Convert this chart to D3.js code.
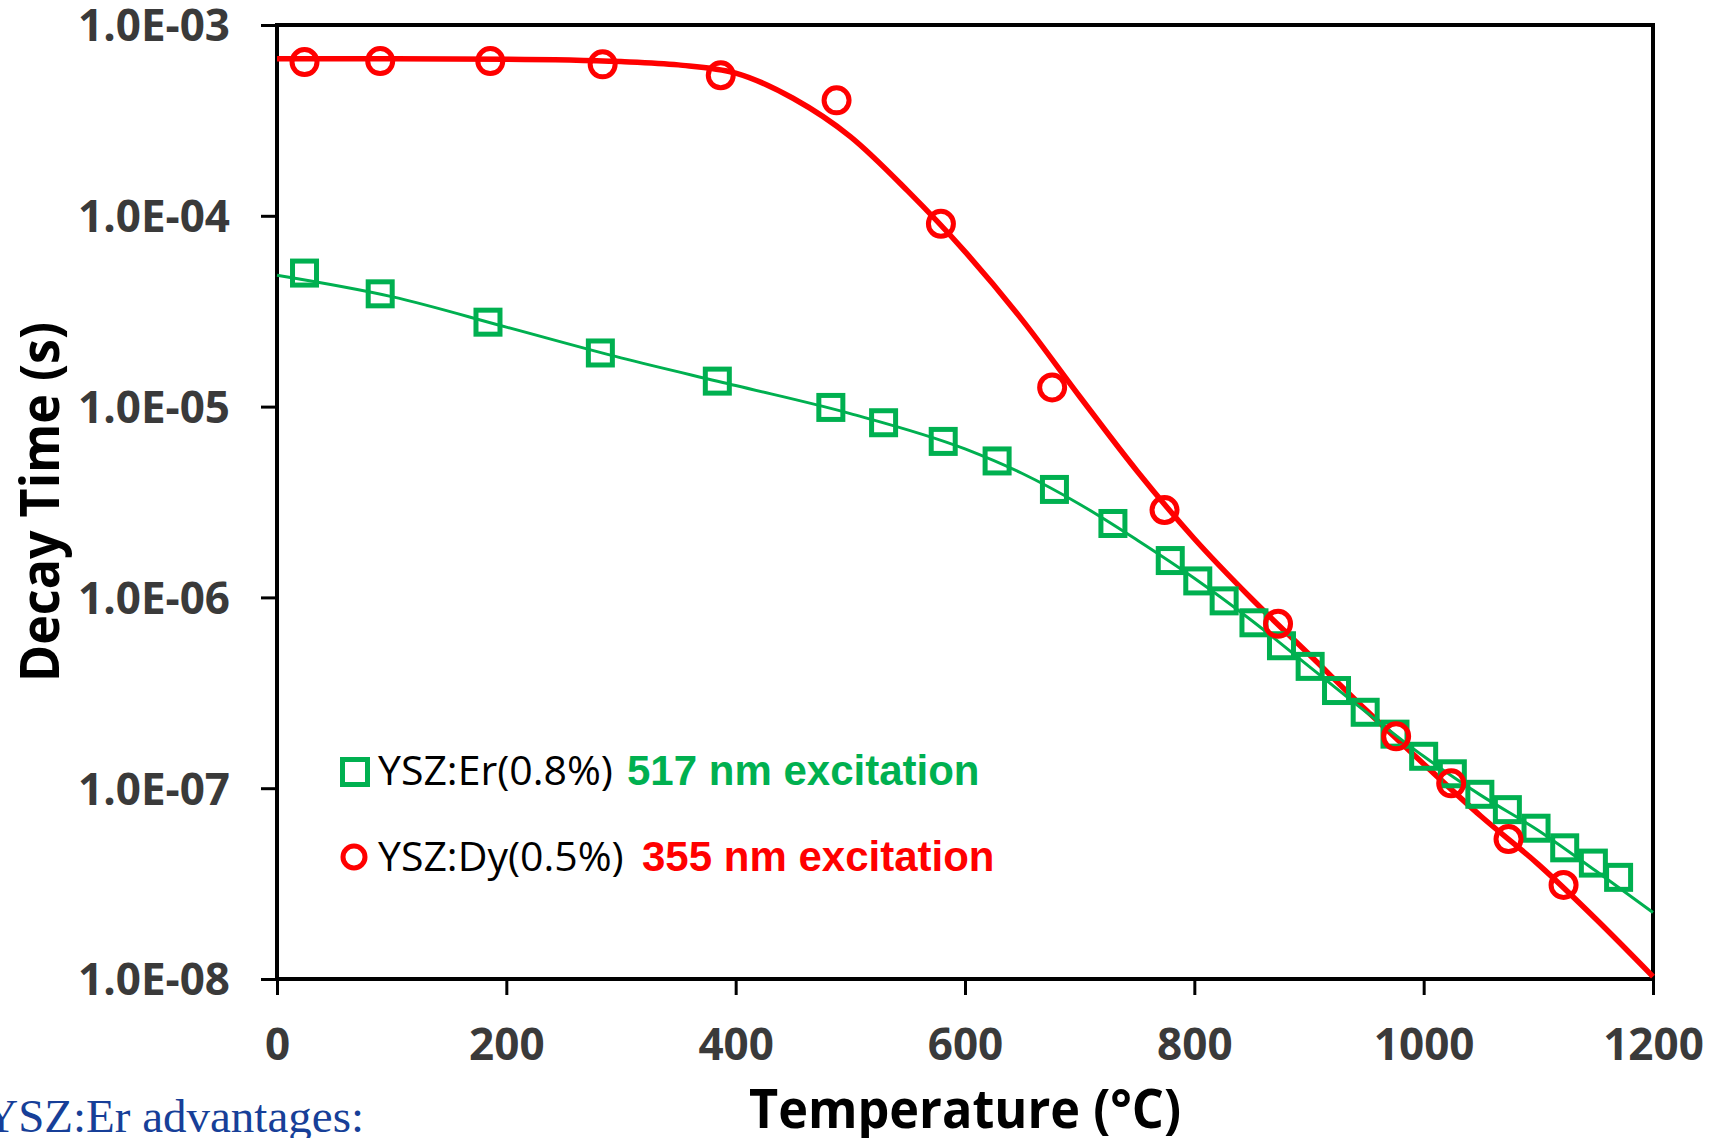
<!DOCTYPE html>
<html>
<head>
<meta charset="utf-8">
<script src="https://cdn.jsdelivr.net/npm/d3@7"></script>
<style>
    body { margin: 0; background: #fff; }
    svg { display: block; }
</style>
</head>
<body>
<div id="chart"></div>
<script>
// YSZ:Er (0.8%) measured decay times
var erTemp = [24, 90, 184, 282, 384, 483, 529, 581, 628, 678, 729, 779, 803, 826, 852, 876, 901, 924, 949, 975, 1000, 1025, 1049, 1073, 1098, 1123, 1148, 1170];
var erTau = [5.01e-5, 3.90e-5, 2.77e-5, 1.91e-5, 1.36e-5, 9.9e-6, 8.23e-6, 6.57e-6, 5.19e-6, 3.68e-6, 2.44e-6, 1.56e-6, 1.22e-6, 9.59e-7, 7.36e-7, 5.58e-7, 4.35e-7, 3.25e-7, 2.50e-7, 1.92e-7, 1.47e-7, 1.19e-7, 9.29e-8, 7.72e-8, 6.17e-8, 4.87e-8, 4.05e-8, 3.41e-8];

// YSZ:Dy (0.5%) measured decay times
var dyTemp = [24, 90, 186, 284, 387, 488, 579, 676, 774, 873, 976, 1024, 1074, 1122];
var dyTau = [6.39e-4, 6.47e-4, 6.47e-4, 6.22e-4, 5.45e-4, 4.03e-4, 9.08e-5, 1.26e-5, 2.87e-6, 7.27e-7, 1.87e-7, 1.06e-7, 5.41e-8, 3.11e-8];

// fitted curves
var erFitTemp = [0, 100, 200, 300, 400, 500, 600, 650, 700, 750, 800, 850, 900, 950, 1000, 1050, 1100, 1150, 1200];
var erFitTau = [4.88e-5, 3.77e-5, 2.61e-5, 1.80e-5, 1.29e-5, 9.19e-6, 6.00e-6, 4.46e-6, 3.08e-6, 2.00e-6, 1.26e-6, 7.57e-7, 4.35e-7, 2.50e-7, 1.47e-7, 9.17e-8, 6.01e-8, 3.69e-8, 2.23e-8];

var dyFitTemp = [0, 100, 200, 300, 350, 400, 450, 500, 550, 600, 650, 700, 750, 800, 850, 900, 950, 1000, 1050, 1100, 1150, 1200];
var dyFitTau = [6.65e-4, 6.65e-4, 6.62e-4, 6.43e-4, 6.18e-4, 5.60e-4, 4.13e-4, 2.60e-4, 1.35e-4, 6.49e-5, 2.84e-5, 1.13e-5, 4.60e-6, 2.03e-6, 9.84e-7, 5.03e-7, 2.56e-7, 1.34e-7, 7.13e-8, 3.99e-8, 2.07e-8, 1.03e-8];

var xTicks = [0, 200, 400, 600, 800, 1000, 1200];
var yTicks = [1e-8, 1e-7, 1e-6, 1e-5, 1e-4, 1e-3];

var legendNames = ['YSZ:Er(0.8%)', 'YSZ:Dy(0.5%)'];
var legendNotes = ['517 nm excitation', '355 nm excitation'];

var W = 1714, H = 1138;
var margin = { top: 25, right: 61, bottom: 159, left: 277 },
    width = W - margin.left - margin.right,
    height = H - margin.top - margin.bottom;

var green = '#00b050', red = '#ff0000';

var x = d3.scaleLinear()
    .domain([0, 1200])
    .range([0, width]);

var y = d3.scaleLog()
    .domain([1e-8, 1e-3])
    .range([height, 0]);

var root = d3.select('#chart')
    .append('svg')
    .attr('width', W)
    .attr('height', H);

var svg = root.append('g')
    .attr('transform', 'translate(' + margin.left + ',' + margin.top + ')');

var fmt = function (d) {
    var e = Math.round(Math.log10(d));
    return '1.0E' + (e < 0 ? '-' : '+') + String(Math.abs(e)).padStart(2, '0');
};

// y axis
var yAxis = svg.append('g')
    .call(d3.axisLeft(y).tickValues(yTicks).tickFormat(fmt).tickSize(16).tickSizeOuter(0));
yAxis.select('.domain').remove();
yAxis.selectAll('line').attr('stroke', '#000').attr('stroke-width', 3);
yAxis.selectAll('text')
    .attr('x', -47)
    .attr('dy', '0.36em')
    .attr('fill', '#3a3a3a')
    .style('font-family', '"Open Sans", sans-serif')
    .style('font-weight', 'bold')
    .style('font-size', '44px');

// x axis
var xAxis = svg.append('g')
    .attr('transform', 'translate(0,' + height + ')')
    .call(d3.axisBottom(x).tickValues(xTicks).tickFormat(d3.format('d')).tickSize(16).tickSizeOuter(0));
xAxis.select('.domain').remove();
xAxis.selectAll('line').attr('stroke', '#000').attr('stroke-width', 3);
xAxis.selectAll('text')
    .attr('y', 81)
    .attr('dy', 0)
    .attr('fill', '#3a3a3a')
    .style('font-family', '"Open Sans", sans-serif')
    .style('font-weight', 'bold')
    .style('font-size', '44px');

// plot frame
svg.append('rect')
    .attr('x', 0)
    .attr('y', 0)
    .attr('width', width)
    .attr('height', height)
    .attr('fill', 'none')
    .attr('stroke', '#000')
    .attr('stroke-width', 4);

var line = d3.line()
    .x(function (d) { return x(d[0]); })
    .y(function (d) { return y(d[1]); })
    .curve(d3.curveMonotoneX);

// fit lines
svg.append('path')
    .datum(d3.zip(dyFitTemp, dyFitTau))
    .attr('d', line)
    .attr('fill', 'none')
    .attr('stroke', red)
    .attr('stroke-width', 5.5);

svg.append('path')
    .datum(d3.zip(erFitTemp, erFitTau))
    .attr('d', line)
    .attr('fill', 'none')
    .attr('stroke', green)
    .attr('stroke-width', 3);

// Er squares
var sq = 24;
svg.selectAll('.er')
    .data(d3.zip(erTemp, erTau))
    .enter().append('rect')
    .attr('class', 'er')
    .attr('x', function (d) { return x(d[0]) - sq / 2; })
    .attr('y', function (d) { return y(d[1]) - sq / 2; })
    .attr('width', sq)
    .attr('height', sq)
    .attr('fill', 'none')
    .attr('stroke', green)
    .attr('stroke-width', 5);

// Dy circles
svg.selectAll('.dy')
    .data(d3.zip(dyTemp, dyTau))
    .enter().append('circle')
    .attr('class', 'dy')
    .attr('cx', function (d) { return x(d[0]); })
    .attr('cy', function (d) { return y(d[1]); })
    .attr('r', 12.5)
    .attr('fill', 'none')
    .attr('stroke', red)
    .attr('stroke-width', 5);

// axis titles
root.append('text')
    .attr('x', margin.left + width / 2)
    .attr('y', 1128)
    .attr('text-anchor', 'middle')
    .attr('textLength', 432)
    .attr('lengthAdjust', 'spacingAndGlyphs')
    .style('font-family', '"Open Sans", sans-serif')
    .style('font-weight', 'bold')
    .style('font-size', '54px')
    .text('Temperature (°C)');

root.append('text')
    .attr('transform', 'translate(59,' + (margin.top + height / 2) + ') rotate(-90)')
    .attr('text-anchor', 'middle')
    .attr('textLength', 360)
    .attr('lengthAdjust', 'spacingAndGlyphs')
    .style('font-family', '"Open Sans", sans-serif')
    .style('font-weight', 'bold')
    .style('font-size', '54px')
    .text('Decay Time (s)');

// legend
var lg = root.append('g');
var rows = [785, 871];
var noteX = [627, 642];
var colors = [green, red];

lg.append('rect')
    .attr('x', 355 - 12.5)
    .attr('y', 772 - 12.5)
    .attr('width', 25)
    .attr('height', 25)
    .attr('fill', 'none')
    .attr('stroke', green)
    .attr('stroke-width', 5);

lg.append('circle')
    .attr('cx', 354)
    .attr('cy', 857)
    .attr('r', 11)
    .attr('fill', 'none')
    .attr('stroke', red)
    .attr('stroke-width', 5);

legendNames.forEach(function (name, i) {
    lg.append('text')
        .attr('x', 378)
        .attr('y', rows[i])
        .style('font-family', '"Open Sans", sans-serif')
        .style('font-size', '41px')
        .attr('fill', '#000')
        .text(name);
    lg.append('text')
        .attr('x', noteX[i])
        .attr('y', rows[i])
        .style('font-family', '"Liberation Sans", Arial, sans-serif')
        .style('font-weight', 'bold')
        .style('font-size', '42px')
        .attr('fill', colors[i])
        .text(legendNotes[i]);
});

// slide text cut at the bottom left
root.append('text')
    .attr('x', 364)
    .attr('y', 1132)
    .attr('text-anchor', 'end')
    .style('font-family', '"Liberation Serif", "Times New Roman", serif')
    .style('font-size', '47px')
    .attr('fill', '#173f98')
    .text('YSZ:Er advantages:');
</script>
</body>
</html>
